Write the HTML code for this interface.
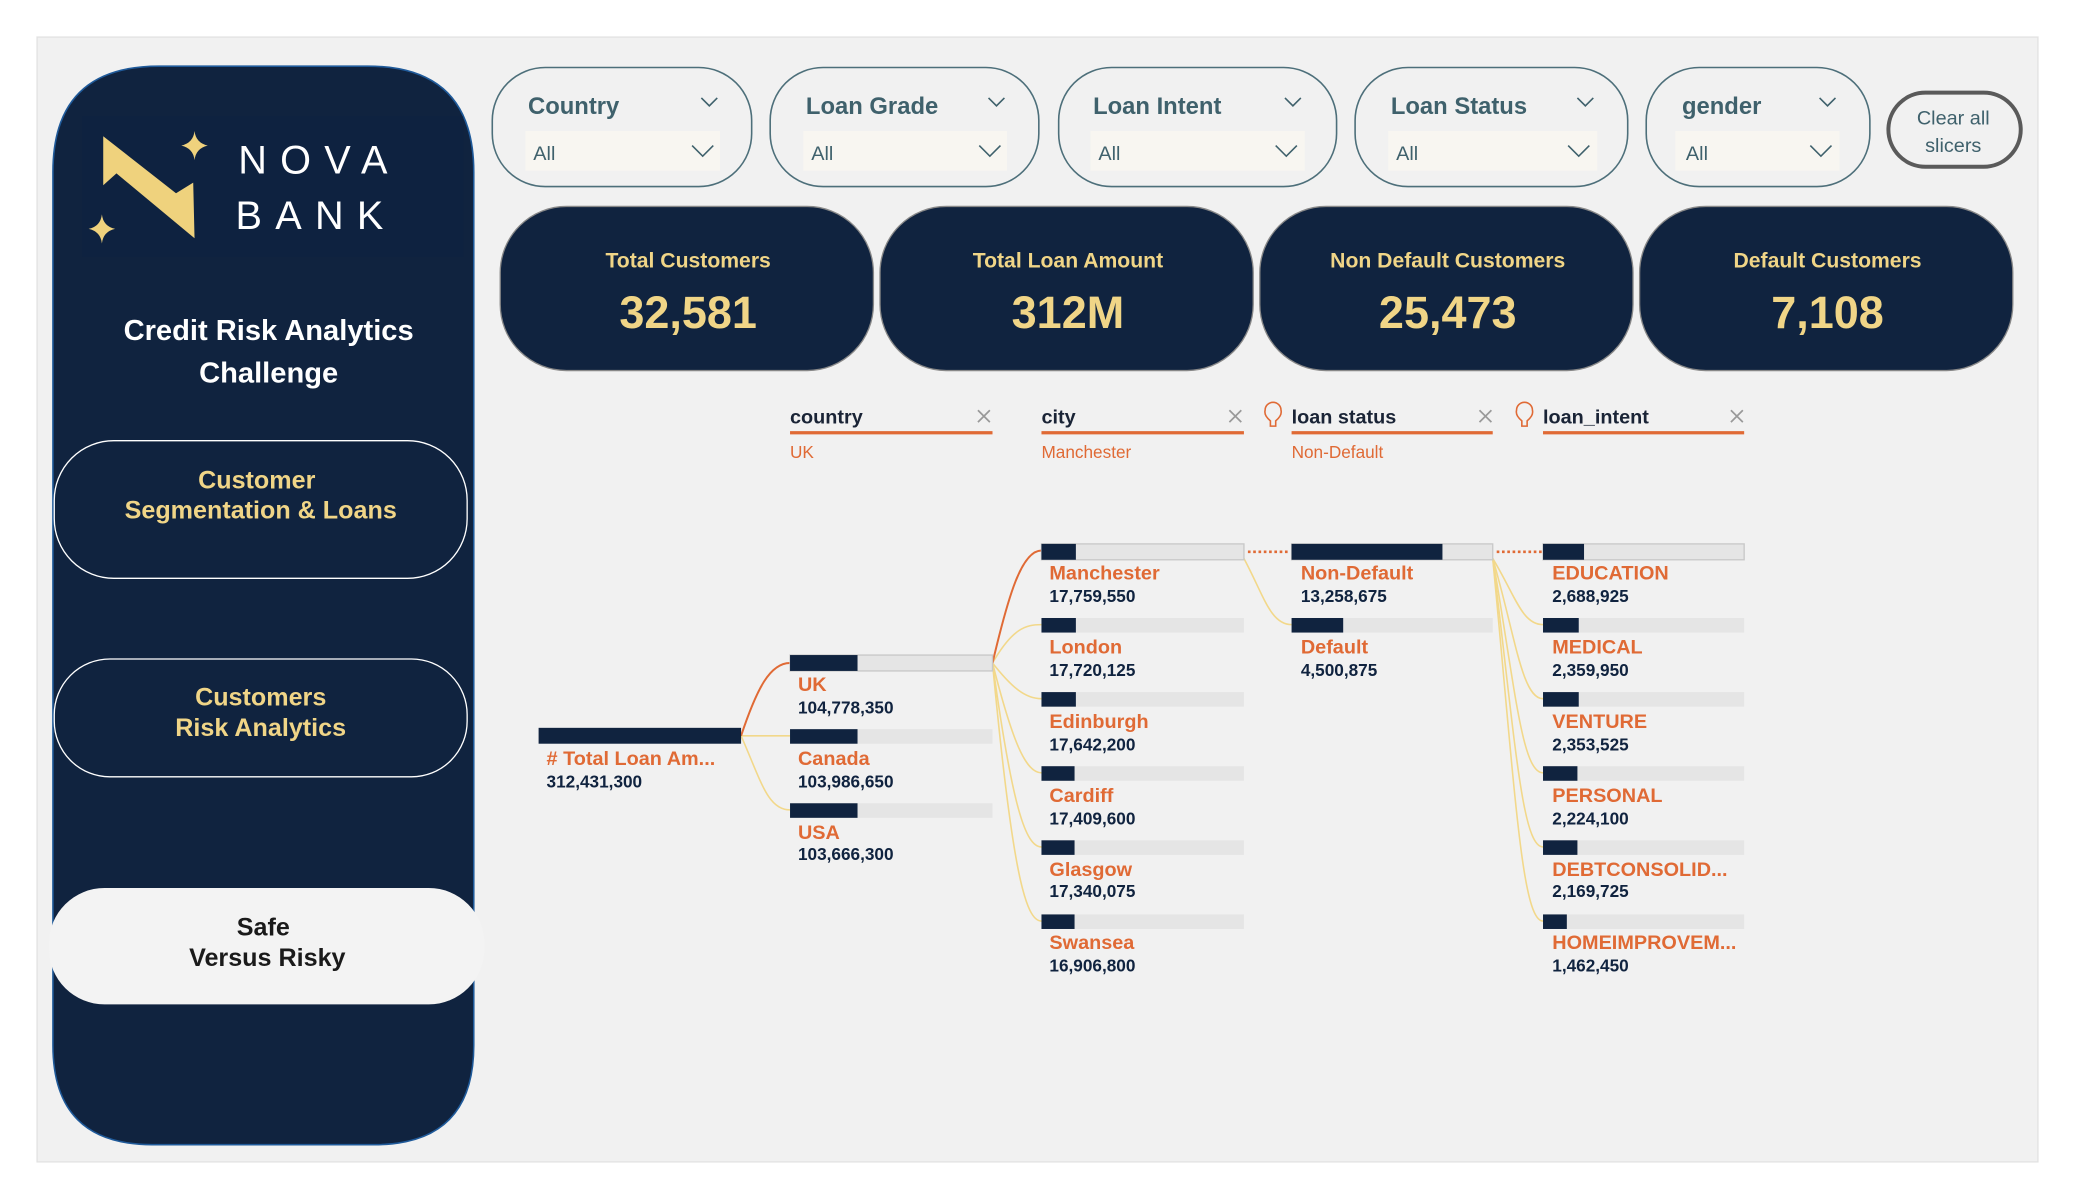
<!DOCTYPE html>
<html><head><meta charset="utf-8"><style>
html,body{margin:0;padding:0;background:#fff;}
svg{display:block;font-family:"Liberation Sans",sans-serif;}
</style></head><body>
<svg width="2075" height="1200" viewBox="0 0 1568 906.8" xmlns="http://www.w3.org/2000/svg">
<rect x="0" y="0" width="1568" height="907" fill="#fff"/>
<rect x="28" y="28" width="1512" height="850" fill="#f1f1f1" stroke="#e2e2e2" stroke-width="1"/>
<!-- sidebar -->
<path d="M40,130 Q40,50 120,50 L278,50 Q358,50 358,130 L358,790 Q358,865 283,865 L115,865 Q40,865 40,790 Z" fill="#10233f" stroke="#1f5a9a" stroke-width="1.2"/>
<rect x="62" y="88" width="288" height="106" fill="#0e2240"/>
<polygon points="78,103 133,146 146,138 147,180 88,131 78,140" fill="#efd27d"/>
<path d="M147,99 Q148,108 157,110 Q148,112 147,121 Q146,112 137,110 Q146,108 147,99Z" fill="#efd27d"/>
<path d="M77,162 Q78,171 87,173 Q78,175 77,184 Q76,175 67,173 Q76,171 77,162Z" fill="#efd27d"/>
<text x="180" y="131" fill="#fff" font-size="30" letter-spacing="10">NOVA</text>
<text x="178" y="173" fill="#fff" font-size="30" letter-spacing="10">BANK</text>
<text x="203" y="257" fill="#fff" font-size="22" font-weight="bold" text-anchor="middle">Credit Risk Analytics</text>
<text x="203" y="289" fill="#fff" font-size="22" font-weight="bold" text-anchor="middle">Challenge</text>
<rect x="41" y="333" width="312" height="104" rx="45" fill="#10233f" stroke="#fff" stroke-width="1"/>
<text x="194" y="369" fill="#f0d587" font-size="19" font-weight="bold" text-anchor="middle">Customer</text>
<text x="197" y="392" fill="#f0d587" font-size="19" font-weight="bold" text-anchor="middle">Segmentation &amp; Loans</text>
<rect x="41" y="498" width="312" height="89" rx="42" fill="#10233f" stroke="#fff" stroke-width="1"/>
<text x="197" y="533" fill="#f0d587" font-size="19" font-weight="bold" text-anchor="middle">Customers</text>
<text x="197" y="556" fill="#f0d587" font-size="19" font-weight="bold" text-anchor="middle">Risk Analytics</text>
<rect x="37" y="671" width="329" height="88" rx="42" fill="#f3f3f3"/>
<text x="199" y="707" fill="#1a1a1a" font-size="19" font-weight="bold" text-anchor="middle">Safe</text>
<text x="202" y="730" fill="#1a1a1a" font-size="19" font-weight="bold" text-anchor="middle">Versus Risky</text>
<!-- slicers -->
<g fill="none" stroke="#4d6f7a" stroke-width="1.2">
<rect x="372" y="51" width="196" height="90" rx="40"/>
<rect x="582" y="51" width="203" height="90" rx="40"/>
<rect x="800" y="51" width="210" height="90" rx="40"/>
<rect x="1024" y="51" width="206" height="90" rx="40"/>
<rect x="1244" y="51" width="169" height="90" rx="40"/>
</g>
<g fill="#f8f6f1">
<rect x="397" y="99" width="147" height="30"/>
<rect x="607" y="99" width="154" height="30"/>
<rect x="824" y="99" width="162" height="30"/>
<rect x="1049" y="99" width="158" height="30"/>
<rect x="1266" y="99" width="124" height="30"/>
</g>
<g fill="#3f616c" font-size="18" font-weight="bold">
<text x="399" y="86">Country</text>
<text x="609" y="86">Loan Grade</text>
<text x="826" y="86">Loan Intent</text>
<text x="1051" y="86">Loan Status</text>
<text x="1271" y="86">gender</text>
</g>
<g fill="#3f616c" font-size="15">
<text x="403" y="121">All</text><text x="613" y="121">All</text><text x="830" y="121">All</text><text x="1055" y="121">All</text><text x="1274" y="121">All</text>
</g>
<g fill="none" stroke="#3f616c" stroke-width="1.2">
<path d="M530,74 l6,6 l6,-6"/><path d="M747,74 l6,6 l6,-6"/><path d="M971,74 l6,6 l6,-6"/><path d="M1192,74 l6,6 l6,-6"/><path d="M1375,74 l6,6 l6,-6"/>
<path d="M523,110 l8,8 l8,-8"/><path d="M740,110 l8,8 l8,-8"/><path d="M964,110 l8,8 l8,-8"/><path d="M1185,110 l8,8 l8,-8"/><path d="M1368,110 l8,8 l8,-8"/>
</g>
<rect x="1427" y="70" width="100" height="56" rx="28" fill="none" stroke="#5a5a5a" stroke-width="3"/>
<text x="1476" y="94" fill="#3f616c" font-size="15" text-anchor="middle">Clear all</text>
<text x="1476" y="115" fill="#3f616c" font-size="15" text-anchor="middle">slicers</text>
<!-- KPI -->
<g fill="#10233f" stroke="#888" stroke-width="1">
<rect x="378" y="156" width="282" height="124" rx="50"/>
<rect x="665" y="156" width="282" height="124" rx="50"/>
<rect x="952" y="156" width="282" height="124" rx="50"/>
<rect x="1239" y="156" width="282" height="124" rx="50"/>
</g>
<g fill="#f0d587" font-weight="bold" text-anchor="middle">
<text x="520" y="202" font-size="16">Total Customers</text>
<text x="807" y="202" font-size="16">Total Loan Amount</text>
<text x="1094" y="202" font-size="16">Non Default Customers</text>
<text x="1381" y="202" font-size="16">Default Customers</text>
<text x="520" y="248" font-size="34">32,581</text>
<text x="807" y="248" font-size="34">312M</text>
<text x="1094" y="248" font-size="34">25,473</text>
<text x="1381" y="248" font-size="34">7,108</text>
</g>
<!-- tree headers -->
<g font-size="15" font-weight="bold" fill="#1a2436">
<text x="597" y="320">country</text><text x="787" y="320">city</text><text x="976" y="320">loan status</text><text x="1166" y="320">loan_intent</text>
</g>
<g stroke="#e06a35" stroke-width="2.5">
<line x1="597" y1="327" x2="750" y2="327"/><line x1="787" y1="327" x2="940" y2="327"/><line x1="976" y1="327" x2="1128" y2="327"/><line x1="1166" y1="327" x2="1318" y2="327"/>
</g>
<g stroke="#999" stroke-width="1.3">
<path d="M739,310 l9,9 M748,310 l-9,9"/><path d="M929,310 l9,9 M938,310 l-9,9"/><path d="M1118,310 l9,9 M1127,310 l-9,9"/><path d="M1308,310 l9,9 M1317,310 l-9,9"/>
</g>
<g fill="none" stroke="#e06a35" stroke-width="1.2">
<path d="M960,322 v-4 q-5,-4 -4,-8 a6,6 0 1 1 12,0 q1,4 -4,8 v4 z"/>
<path d="M1150,322 v-4 q-5,-4 -4,-8 a6,6 0 1 1 12,0 q1,4 -4,8 v4 z"/>
</g>
<g fill="#e06a35" font-size="13">
<text x="597" y="346">UK</text><text x="787" y="346">Manchester</text><text x="976" y="346">Non-Default</text>
</g>
<!-- connectors -->
<g fill="none" stroke="#f2d88a" stroke-width="1.2">
<path d="M560,556 L597,556"/>
<path d="M560,556 C575,590 580,612 597,612"/>
<path d="M750,501 C765,475 775,472 787,472"/>
<path d="M750,501 C765,520 775,528 787,528"/>
<path d="M750,501 C765,560 775,584 787,584"/>
<path d="M750,501 C765,610 775,640 787,640"/>
<path d="M750,501 C765,660 775,696 787,696"/>
<path d="M940,422 C955,450 960,472 976,472"/>
<path d="M1128,422 C1145,450 1150,472 1166,472"/>
<path d="M1128,422 C1145,480 1150,528 1166,528"/>
<path d="M1128,422 C1145,520 1150,584 1166,584"/>
<path d="M1128,422 C1145,560 1150,640 1166,640"/>
<path d="M1128,422 C1145,600 1150,696 1166,696"/>
</g>
<g fill="none" stroke="#e06a35" stroke-width="1.5">
<path d="M560,556 C572,520 582,501 597,501"/>
<path d="M750,501 C762,450 772,416 787,416"/>
</g>
<g stroke="#e06a35" stroke-width="2" stroke-dasharray="2,2">
<line x1="943" y1="417" x2="975" y2="417"/><line x1="1131" y1="417" x2="1165" y2="417"/>
</g>
<!-- bars -->
<g fill="#e5e5e5">
<rect x="597" y="495" width="153" height="12" stroke="#c8c8c8" stroke-width="1"/><rect x="597" y="551" width="153" height="11"/><rect x="597" y="607" width="153" height="11"/>
<rect x="787" y="411" width="153" height="12" stroke="#c8c8c8" stroke-width="1"/><rect x="787" y="467" width="153" height="11"/><rect x="787" y="523" width="153" height="11"/><rect x="787" y="579" width="153" height="11"/><rect x="787" y="635" width="153" height="11"/><rect x="787" y="691" width="153" height="11"/>
<rect x="976" y="411" width="152" height="12" stroke="#c8c8c8" stroke-width="1"/><rect x="976" y="467" width="152" height="11"/>
<rect x="1166" y="411" width="152" height="12" stroke="#c8c8c8" stroke-width="1"/><rect x="1166" y="467" width="152" height="11"/><rect x="1166" y="523" width="152" height="11"/><rect x="1166" y="579" width="152" height="11"/><rect x="1166" y="635" width="152" height="11"/><rect x="1166" y="691" width="152" height="11"/>
</g>
<g fill="#10233f">
<rect x="407" y="550" width="153" height="12"/>
<rect x="597" y="495" width="51" height="12"/><rect x="597" y="551" width="51" height="11"/><rect x="597" y="607" width="51" height="11"/>
<rect x="787" y="411" width="26" height="12"/><rect x="787" y="467" width="26" height="11"/><rect x="787" y="523" width="26" height="11"/><rect x="787" y="579" width="25" height="11"/><rect x="787" y="635" width="25" height="11"/><rect x="787" y="691" width="25" height="11"/>
<rect x="976" y="411" width="114" height="12"/><rect x="976" y="467" width="39" height="11"/>
<rect x="1166" y="411" width="31" height="12"/><rect x="1166" y="467" width="27" height="11"/><rect x="1166" y="523" width="27" height="11"/><rect x="1166" y="579" width="26" height="11"/><rect x="1166" y="635" width="26" height="11"/><rect x="1166" y="691" width="18" height="11"/>
</g>
<!-- labels -->
<g fill="#e06a35" font-size="15" font-weight="bold">
<text x="413" y="578"># Total Loan Am...</text>
<text x="603" y="522">UK</text><text x="603" y="578">Canada</text><text x="603" y="634">USA</text>
<text x="793" y="438">Manchester</text><text x="793" y="494">London</text><text x="793" y="550">Edinburgh</text><text x="793" y="606">Cardiff</text><text x="793" y="662">Glasgow</text><text x="793" y="717">Swansea</text>
<text x="983" y="438">Non-Default</text><text x="983" y="494">Default</text>
<text x="1173" y="438">EDUCATION</text><text x="1173" y="494">MEDICAL</text><text x="1173" y="550">VENTURE</text><text x="1173" y="606">PERSONAL</text><text x="1173" y="662">DEBTCONSOLID...</text><text x="1173" y="717">HOMEIMPROVEM...</text>
</g>
<g fill="#10233f" font-size="13" font-weight="bold">
<text x="413" y="595">312,431,300</text>
<text x="603" y="539">104,778,350</text><text x="603" y="595">103,986,650</text><text x="603" y="650">103,666,300</text>
<text x="793" y="455">17,759,550</text><text x="793" y="511">17,720,125</text><text x="793" y="567">17,642,200</text><text x="793" y="623">17,409,600</text><text x="793" y="678">17,340,075</text><text x="793" y="734">16,906,800</text>
<text x="983" y="455">13,258,675</text><text x="983" y="511">4,500,875</text>
<text x="1173" y="455">2,688,925</text><text x="1173" y="511">2,359,950</text><text x="1173" y="567">2,353,525</text><text x="1173" y="623">2,224,100</text><text x="1173" y="678">2,169,725</text><text x="1173" y="734">1,462,450</text>
</g>
</svg>
</body></html>
